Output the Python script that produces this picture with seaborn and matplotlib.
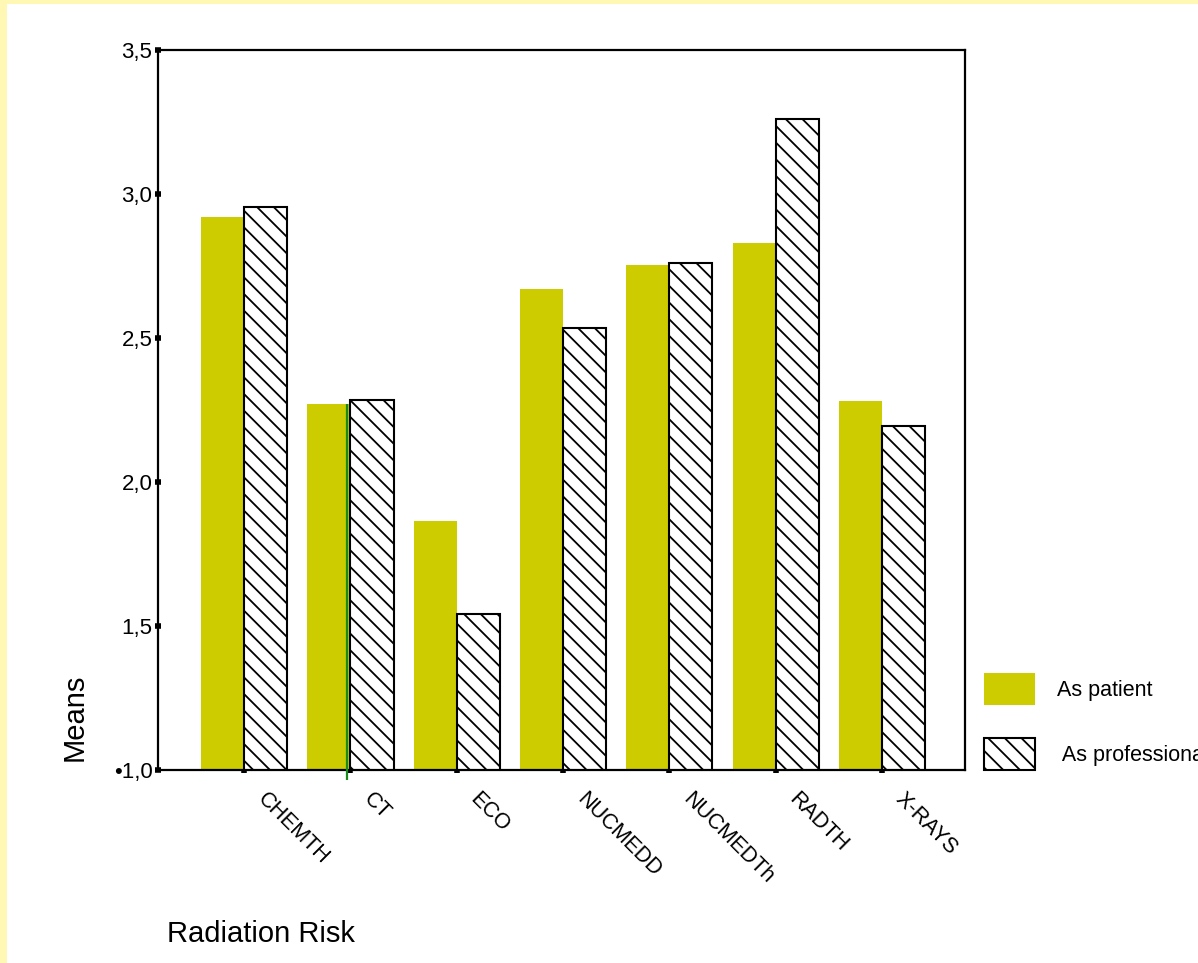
import numpy as np
import pandas as pd
import seaborn as sns
import matplotlib.pyplot as plt
import matplotlib.patches as mpatches
import matplotlib.transforms as mtransforms

# data
categories = ['CHEMTH', 'CT', 'ECO', 'NUCMEDD', 'NUCMEDTh', 'RADTH', 'X-RAYS']
as_patient = [2.92, 2.27, 1.865, 2.67, 2.755, 2.83, 2.28]
as_professional = [2.955, 2.285, 1.54, 2.535, 2.76, 3.26, 2.195]
series_names = ['As patient', 'As professional']
yticks = [1.0, 1.5, 2.0, 2.5, 3.0, 3.5]
ytick_labels = ['\u20221,0', '1,5', '2,0', '2,5', '3,0', '3,5']

df = pd.DataFrame({
    'risk': categories * 2,
    'mean': as_patient + as_professional,
    'kind': [series_names[0]] * len(categories) + [series_names[1]] * len(categories),
})

sns.set_style('ticks')
plt.rcParams['font.family'] = ['Liberation Sans', 'DejaVu Sans']
plt.rcParams['hatch.linewidth'] = 1.3
plt.rcParams['text.color'] = 'black'

yellow = '#cccc00'

fig = plt.figure(figsize=(11.98, 9.63), dpi=100, facecolor='#fff8b4')
# white page inside the thin yellow frame
fig.add_artist(mpatches.Rectangle((7 / 1198, 0), 1, 1 - 4 / 963, transform=fig.transFigure,
                                  facecolor='white', edgecolor='none', zorder=-10))
ax = fig.add_axes([158 / 1198, 1 - 770 / 963, 807 / 1198, 720 / 963])

sns.barplot(data=df, x='risk', y='mean', hue='kind', palette=[yellow, 'white'],
            width=0.81, saturation=1, legend=False, ax=ax)

for p in ax.containers[0]:
    p.set_edgecolor('none')
for p in ax.containers[1]:
    p.set_facecolor('white')
    p.set_edgecolor('black')
    p.set_linewidth(1.5)
    p.set_hatch('\\\\')

ax.set_ylim(1.0, 3.5)
ax.set_xlim(-0.81, len(categories) - 1 + 0.78)
ax.set_yticks(yticks)
ax.set_yticklabels(ytick_labels, fontsize=16, color='black')
ax.set_xticks(range(len(categories)))
ax.set_xticklabels([])

# category labels, slanted down to the right and set off from the tick
lbl_trans = mtransforms.offset_copy(ax.get_xaxis_transform(), fig=fig, x=24, y=-19, units='dots')
for i, name in enumerate(categories):
    ax.text(i, 0, name, transform=lbl_trans, fontsize=15.5, rotation=-45, ha='left', va='top',
            rotation_mode='anchor', clip_on=False)

for s in ax.spines.values():
    s.set_linewidth(1.6)
    s.set_color('black')
ax.tick_params(axis='both', direction='inout', length=4, width=4, color='black', pad=3)
ax.tick_params(axis='y', pad=2)
ax.set_xlabel('')
ax.set_ylabel('')

# stray green stroke along the CT patient bar
ct = ax.containers[0][1]
ax.vlines(ct.get_x() + ct.get_width() - 0.035, 0.965, ct.get_height(), color='#1a8a1a',
          linewidth=1.6, clip_on=False, zorder=5)

fig.text(75 / 1198, 1 - 717 / 963, 'Means', rotation=90, fontsize=21,
         ha='center', va='center')
fig.text(167 / 1198, 1 - 934 / 963, 'Radiation Risk', fontsize=21, ha='left', va='center')

handles = [mpatches.Patch(facecolor=yellow, edgecolor='none'),
           mpatches.Patch(facecolor='white', edgecolor='black', hatch='\\\\', linewidth=1.5)]
fig.legend(handles, ['As patient', ' As professional'], loc='upper left',
           bbox_to_anchor=(984 / 1198, 1 - 673 / 963), frameon=False, fontsize=15.5,
           handlelength=2.35, handleheight=1.9, labelspacing=1.55, handletextpad=1.05,
           borderpad=0, borderaxespad=0)

plt.savefig('out.png', dpi=100)
